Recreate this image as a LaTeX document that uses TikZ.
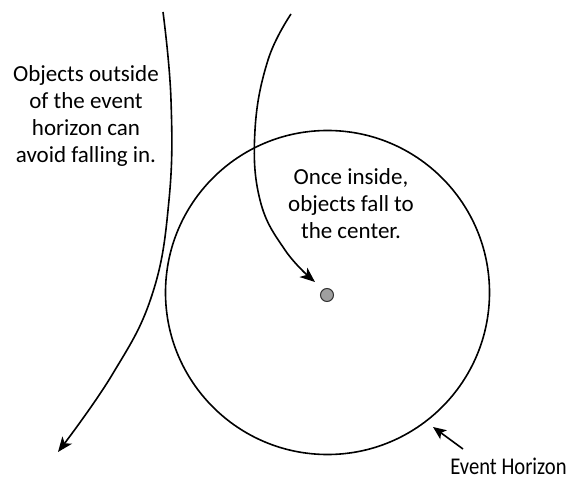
\documentclass[tikz,border=0pt]{standalone}
\usepackage{fontspec}
\setmainfont{Carlito}
\newfontfamily\ehfont[FakeStretch=0.86]{Carlito}
\usetikzlibrary{arrows.meta}
\begin{document}
\begin{tikzpicture}[x=1pt,y=-1pt,
  curve/.style={line width=1.6pt, -{Stealth[length=15pt,width=12pt,inset=4pt]}},
  lbl/.style={font=\fontsize{23}{27}\selectfont, align=center, inner sep=0pt}]
\useasboundingbox (0,0) rectangle (568,481);
\fill[white] (0,0) rectangle (568,481);
% event horizon
\draw[line width=1.6pt] (327.5,292.5) circle[radius=162];
\node[circle, fill=gray!75, draw=black!80, line width=1pt, minimum size=13pt, inner sep=0pt] (c) at (327,295) {};
% outside trajectory
\draw[curve] plot[smooth, tension=0.7] coordinates {(163,12) (171,100) (169,200) (152,295) (112,375) (58,452)};
% infalling trajectory
\draw[curve] plot[smooth, tension=0.7] coordinates {(291,14) (268,60) (255,130) (260,200) (285,250) (315,282)};
% labels
\node[lbl] (t1) at (86,116) {Objects outside\\of the event\\horizon can\\avoid falling in.};
\node[lbl] (t2) at (351,204) {Once inside,\\objects fall to\\the center.};
\node[font=\ehfont\fontsize{24}{26}\selectfont, inner sep=0pt] (eh) at (508.5,466) {Event Horizon};
\coordinate (ehtip) at (433,427);
\draw[line width=1.6pt, -{Stealth[length=13pt,width=11pt,inset=3pt]}] (463,449) -- (ehtip);
\end{tikzpicture}
\end{document}
